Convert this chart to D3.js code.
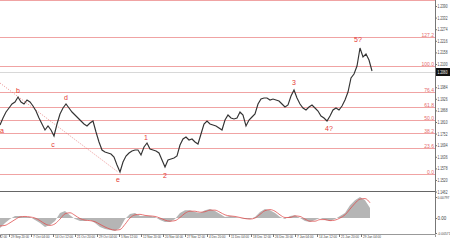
<!DOCTYPE html>
<html>
<head>
<meta charset="utf-8">
<script src="https://cdn.jsdelivr.net/npm/d3@7"></script>
<style>
body { margin: 0; background: #fff; }
svg { display: block; }
text { font-family: "Liberation Sans", "DejaVu Sans", sans-serif; }
</style>
</head>
<body>
<div id="chart"></div>
<script>
// closes, one value every 6 bars (H4)
var priceStep = 6;
var closes = [
    1.1795, 1.1830, 1.1860, 1.1880, 1.1900, 1.1910, 1.1935, 1.1910, 1.1900, 1.1920,
    1.1910, 1.1890, 1.1865, 1.1830, 1.1800, 1.1770, 1.1790, 1.1770, 1.1740, 1.1800,
    1.1850, 1.1880, 1.1900, 1.1880, 1.1860, 1.1845, 1.1830, 1.1815, 1.1800, 1.1790,
    1.1805, 1.1815, 1.1760, 1.1710, 1.1670, 1.1660, 1.1655, 1.1650, 1.1635, 1.1595,
    1.1560, 1.1610, 1.1640, 1.1655, 1.1665, 1.1670, 1.1670, 1.1645, 1.1685, 1.1705,
    1.1675, 1.1670, 1.1665, 1.1655, 1.1620, 1.1585, 1.1620, 1.1625, 1.1630, 1.1640,
    1.1695, 1.1725, 1.1735, 1.1720, 1.1725, 1.1710, 1.1700, 1.1750, 1.1800, 1.1815,
    1.1800, 1.1795, 1.1790, 1.1780, 1.1770, 1.1820, 1.1845, 1.1830, 1.1825, 1.1830,
    1.1860, 1.1845, 1.1790, 1.1820, 1.1835, 1.1850, 1.1900, 1.1925, 1.1930, 1.1930,
    1.1920, 1.1925, 1.1920, 1.1915, 1.1900, 1.1885, 1.1895, 1.1940, 1.1970, 1.1930,
    1.1900, 1.1880, 1.1870, 1.1885, 1.1895, 1.1880, 1.1865, 1.1840, 1.1830, 1.1815,
    1.1840, 1.1870, 1.1880, 1.1870, 1.1890, 1.1920, 1.1960, 1.2030, 1.2050, 1.2090,
    1.2180, 1.2135, 1.2150, 1.2120, 1.2065
];

// MACD histogram and signal, one value every 10 bars
var macdStep = 10;
var macdHist = [
    -0.0038, -0.0019, -0.0004, 0.0008, 0.0008, 0.0004, 0.0004, -0.0008, -0.0019, -0.0034,
    -0.0027, -0.0011, 0.0019, 0.0027, 0.0011, -0.0004, -0.0011, -0.0011, -0.0008, -0.0019,
    -0.0034, -0.0042, -0.0046, -0.0049, -0.0038, -0.0004, 0.0015, 0.0019, 0.0008, 0.0008,
    0.0008, 0.0004, -0.0008, -0.0015, -0.0015, -0.0004, 0.0019, 0.0030, 0.0030, 0.0023,
    0.0019, 0.0030, 0.0034, 0.0027, 0.0015, 0.0004, 0.0008, 0.0004, 0.0000, -0.0004,
    -0.0004, 0.0004, 0.0023, 0.0034, 0.0030, 0.0019, 0.0004, -0.0004, 0.0008, 0.0011,
    0.0000, -0.0011, -0.0015, -0.0008, 0.0000, -0.0008, -0.0011, -0.0004, 0.0008, 0.0019,
    0.0049, 0.0068, 0.0080, 0.0068, 0.0038
];
var macdSignal = [
    -0.0030, -0.0028, -0.0018, -0.0006, 0.0004, 0.0006, 0.0004, 0.0000, -0.0010, -0.0022,
    -0.0028, -0.0022, -0.0004, 0.0016, 0.0020, 0.0010, -0.0002, -0.0008, -0.0010, -0.0014,
    -0.0024, -0.0034, -0.0042, -0.0046, -0.0044, -0.0024, 0.0000, 0.0012, 0.0014, 0.0010,
    0.0008, 0.0006, 0.0000, -0.0008, -0.0012, -0.0010, 0.0002, 0.0018, 0.0026, 0.0026,
    0.0022, 0.0024, 0.0030, 0.0030, 0.0022, 0.0012, 0.0008, 0.0006, 0.0002, -0.0002,
    -0.0004, 0.0000, 0.0014, 0.0028, 0.0032, 0.0026, 0.0012, 0.0002, 0.0002, 0.0008,
    0.0006, -0.0004, -0.0012, -0.0012, -0.0006, -0.0006, -0.0010, -0.0008, 0.0000, 0.0012,
    0.0034, 0.0056, 0.0072, 0.0074, 0.0058
];

var fibLevels = [0, 23.6, 38.2, 50, 61.8, 76.4, 100, 127.2, 161.8];
var fibLow = 1.1552;
var fibHigh = 1.2088;

var priceTicks = [1.2390, 1.2332, 1.2274, 1.2216, 1.2158, 1.2100, 1.1984, 1.1926,
    1.1868, 1.1810, 1.1752, 1.1694, 1.1636, 1.1578, 1.1520, 1.1462];
var macdTicks = [0.0080, 0, -0.0057];
var macdTickLabels = ["0.00797", "0.00", "-0.00571"];

var dateTickBars = [-26, 18, 62, 106, 150, 194, 238, 282, 326, 370, 414, 458, 502, 546, 590, 634, 678, 722];
var dateLabels = ["22 Sep 12:00", "29 Sep 20:00", "7 Oct 04:00", "14 Oct 12:00", "21 Oct 20:00",
    "29 Oct 04:00", "5 Nov 12:00", "12 Nov 20:00", "20 Nov 04:00", "27 Nov 12:00", "4 Dec 20:00",
    "11 Dec 04:00", "18 Dec 12:00", "26 Dec 20:00", "7 Jan 04:00", "14 Jan 12:00", "21 Jan 20:00",
    "29 Jan 04:00"];

var waveNames = ["a", "b", "c", "d", "e", "1", "2", "3", "4?", "5?"];
var waveBars = [4, 36, 106, 132, 236, 292, 330, 588, 658, 716];
var wavePrices = [1.1765, 1.1965, 1.1695, 1.1930, 1.1520, 1.1730, 1.1540, 1.2005, 1.1775, 1.2220];

var trendBars = [0, 236];
var trendPrices = [1.2005, 1.1560];

var lastPrice = 1.2060;

var W = 450, H = 242;
var plotRight = 435;

var svg = d3.select("#chart").append("svg")
    .attr("width", W)
    .attr("height", H);

svg.append("rect").attr("width", W).attr("height", H).attr("fill", "#fff");

var x = d3.scaleLinear().domain([0, 870]).range([0, plotRight]);
var y = d3.scaleLinear().domain([1.1465, 1.2420]).range([191, 0]);
var ym = d3.scaleLinear().domain([-0.0057, 0.0080]).range([233, 197]);

// fibonacci levels
var fib = svg.append("g");
fibLevels.forEach(function (lv) {
    var p = fibLow + (fibHigh - fibLow) * lv / 100;
    var yy = Math.round(y(p)) + 0.5;
    fib.append("line")
        .attr("x1", 0).attr("x2", plotRight)
        .attr("y1", yy).attr("y2", yy)
        .attr("stroke", "#f0a3a3").attr("stroke-width", 1);
    if (yy > 6) {
        fib.append("text")
            .attr("x", plotRight - 1)
            .attr("y", yy - 1)
            .attr("text-anchor", "end")
            .attr("font-size", "5px")
            .attr("fill", "#e56b6b")
            .text(lv.toFixed(1));
    }
});

// current price line
svg.append("line")
    .attr("x1", 0).attr("x2", plotRight)
    .attr("y1", Math.round(y(lastPrice)) + 0.5).attr("y2", Math.round(y(lastPrice)) + 0.5)
    .attr("stroke", "#d8d8d8").attr("stroke-width", 1);

// dotted trend line
svg.append("line")
    .attr("x1", x(trendBars[0])).attr("y1", y(trendPrices[0]))
    .attr("x2", x(trendBars[1])).attr("y2", y(trendPrices[1]))
    .attr("stroke", "#e57373")
    .attr("stroke-width", 0.8)
    .attr("stroke-dasharray", "1,1.5");

// price
var priceLine = d3.line()
    .x(function (d, i) { return x(i * priceStep); })
    .y(function (d) { return y(d); });

svg.append("path")
    .datum(closes)
    .attr("d", priceLine)
    .attr("fill", "none")
    .attr("stroke", "#333")
    .attr("stroke-width", 1.15)
    .attr("stroke-linejoin", "miter");

// wave labels
svg.append("g").selectAll("text")
    .data(waveNames)
    .enter()
    .append("text")
    .attr("x", function (d, i) { return x(waveBars[i]); })
    .attr("y", function (d, i) { return y(wavePrices[i]); })
    .attr("dy", "0.35em")
    .attr("text-anchor", "middle")
    .attr("font-size", "7px")
    .attr("fill", "#e53935")
    .text(function (d) { return d; });

// panel separator
svg.append("line")
    .attr("x1", 0).attr("x2", plotRight)
    .attr("y1", 191.5).attr("y2", 191.5)
    .attr("stroke", "#666").attr("stroke-width", 1);

// macd
var zeroY = ym(0);
var histArea = d3.area()
    .x(function (d, i) { return x(i * macdStep); })
    .y0(zeroY)
    .y1(function (d) { return ym(d); });

svg.append("path")
    .datum(macdHist)
    .attr("d", histArea)
    .attr("fill", "#b5b5b5");

var sigLine = d3.line()
    .curve(d3.curveMonotoneX)
    .x(function (d, i) { return x(i * macdStep); })
    .y(function (d) { return ym(d); });

svg.append("path")
    .datum(macdSignal)
    .attr("d", sigLine)
    .attr("fill", "none")
    .attr("stroke", "#e05050")
    .attr("stroke-width", 0.8);

// price axis
var yAxis = svg.append("g")
    .attr("transform", "translate(" + plotRight + ",0)")
    .call(d3.axisRight(y).tickValues(priceTicks).tickSize(2).tickFormat(d3.format(".4f")));

var mAxis = svg.append("g")
    .attr("transform", "translate(" + plotRight + ",0)")
    .call(d3.axisRight(ym).tickValues(macdTicks).tickSize(2)
        .tickFormat(function (d, i) { return macdTickLabels[i]; }));

[yAxis, mAxis].forEach(function (g) {
    g.select(".domain").remove();
    g.selectAll("line").attr("stroke", "#777");
    g.selectAll("text")
        .attr("fill", "#444")
        .attr("x", 2.5);
});
yAxis.selectAll("text")
    .attr("font-size", "4.5px")
    .attr("textLength", 10)
    .attr("lengthAdjust", "spacingAndGlyphs");
mAxis.selectAll("text")
    .attr("font-size", function () { return this.textContent.length > 4 ? "3.3px" : "4.5px"; });

svg.append("line")
    .attr("x1", plotRight + 0.5).attr("x2", plotRight + 0.5)
    .attr("y1", 0).attr("y2", 234)
    .attr("stroke", "#777").attr("stroke-width", 1);

// last price box
var ly = y(lastPrice);
svg.append("rect")
    .attr("x", plotRight + 1).attr("y", ly - 4)
    .attr("width", W - plotRight - 1).attr("height", 8)
    .attr("fill", "#111");
svg.append("text")
    .attr("x", plotRight + 2.5).attr("y", ly)
    .attr("dy", "0.35em")
    .attr("font-size", "4.5px")
    .attr("fill", "#fff")
    .attr("textLength", 10)
    .attr("lengthAdjust", "spacingAndGlyphs")
    .text(lastPrice.toFixed(4));

// time axis
var xAxis = svg.append("g")
    .attr("transform", "translate(0,234)")
    .call(d3.axisBottom(x).tickValues(dateTickBars).tickSize(3)
        .tickFormat(function (d, i) { return dateLabels[i]; }));

xAxis.select(".domain").attr("stroke", "#999");
xAxis.selectAll("line").attr("stroke", "#777");
xAxis.selectAll("text")
    .attr("font-size", "4px")
    .attr("fill", "#444")
    .attr("text-anchor", "start")
    .attr("x", 1.5)
    .attr("y", 1.5)
    .attr("textLength", function () { return this.textContent.length > 11 ? 18 : 16.5; })
    .attr("lengthAdjust", "spacingAndGlyphs");
</script>
</body>
</html>
